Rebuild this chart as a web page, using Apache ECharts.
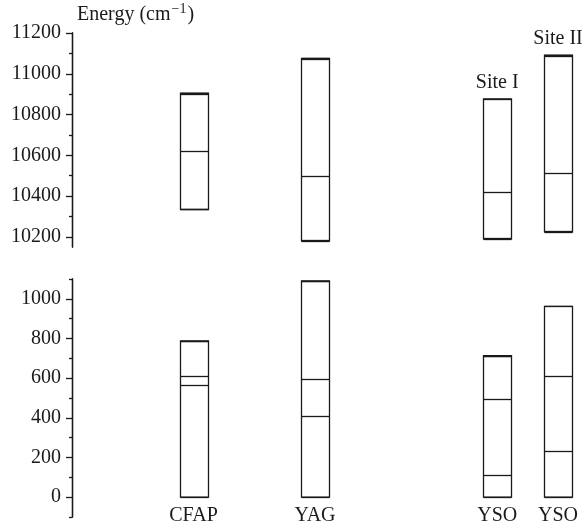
<!DOCTYPE html>
<html>
<head>
<meta charset="utf-8">
<script src="https://cdn.jsdelivr.net/npm/echarts@6/dist/echarts.min.js"></script>
<style>html,body{margin:0;padding:0;background:#fff}#c{width:585px;height:527px}</style>
</head>
<body>
<div id="c"></div>
<script>
// Column slots: empty strings are spacing slots, named slots carry a material
const categories = ['', '', 'CFAP', '', 'YAG', '', '', 'YSO', 'YSO'];
const siteLabels = ['', '', '', '', '', '', '', 'Site I', 'Site II'];

// Energy levels (cm^-1), upper multiplet
const cfapUpper = [10334, 10623, 10900, 10905];
const yagUpper = [10180, 10185, 10497, 11070, 11075];
const ysoIUpper = [10190, 10195, 10418, 10877];
const ysoIIUpper = [10224, 10227, 10515, 11088, 11091];

// Energy levels (cm^-1), lower multiplet
const cfapLower = [0, 565, 610, 785, 788];
const yagLower = [0, 408, 596, 1088, 1091];
const ysoILower = [0, 112, 493, 711, 714];
const ysoIILower = [0, 233, 613, 962];

// Axis tick values
const upperMajorTicks = [10200, 10400, 10600, 10800, 11000, 11200];
const upperMinorTicks = [10300, 10500, 10700, 10900, 11100];
const lowerMajorTicks = [0, 200, 400, 600, 800, 1000];
const lowerMinorTicks = [-100, 100, 300, 500, 700, 900, 1100];

const upperLevels = [cfapUpper, yagUpper, ysoIUpper, ysoIIUpper];
const lowerLevels = [cfapLower, yagLower, ysoILower, ysoIILower];
const slotIndex = categories.map((c, i) => c ? i : -1).filter(i => i >= 0);

const FONT = 'Liberation Serif';
const INK = '#1a1a1a';

function makeData(levels) {
  return levels.map((lv, k) => [slotIndex[k], Math.min(...lv), Math.max(...lv)]);
}

function makeRender(levels, withSites) {
  return function (params, api) {
    const lv = levels[params.dataIndex];
    const slot = api.value(0);
    const cx = api.coord([slot, api.value(1)])[0];
    const yB = api.coord([slot, api.value(1)])[1];
    const yT = api.coord([slot, api.value(2)])[1];
    const w = 28;
    const x0 = Math.round(cx - w / 2) + 0.5;
    const children = [{
      type: 'rect',
      shape: { x: x0, y: yT, width: w, height: yB - yT },
      style: { fill: '#fff', stroke: INK, lineWidth: 1.3 }
    }];
    lv.forEach(v => {
      const y = Math.round(api.coord([slot, v])[1]) + 0.5;
      children.push({
        type: 'line',
        shape: { x1: x0, y1: y, x2: x0 + w, y2: y },
        style: { stroke: INK, lineWidth: 1.3 }
      });
    });
    if (withSites && siteLabels[slot]) {
      children.push({
        type: 'text',
        style: {
          text: siteLabels[slot], x: cx, y: yT - 6,
          align: 'center', verticalAlign: 'bottom',
          font: '20px "' + FONT + '"', fill: INK
        }
      });
    }
    return { type: 'group', children };
  };
}

function yAxisPair(gridIndex, min, max, major, minor) {
  const base = {
    type: 'value', gridIndex, min, max, position: 'left',
    splitLine: { show: false },
    axisLine: { show: true, onZero: false, lineStyle: { color: INK, width: 1.3 } }
  };
  return [
    Object.assign({}, base, {
      axisTick: { show: true, length: 6, customValues: major, lineStyle: { color: INK, width: 1.3 } },
      axisLabel: {
        show: true, customValues: major, margin: 11, fontFamily: FONT, fontSize: 20, color: INK,
        formatter: v => String(v)
      }
    }),
    Object.assign({}, base, {
      axisTick: { show: true, length: 3, customValues: minor, lineStyle: { color: INK, width: 1.3 } },
      axisLabel: { show: false }
    })
  ];
}

const chart = echarts.init(document.getElementById('c'), null, { renderer: 'canvas' });
chart.setOption({
  animation: false,
  backgroundColor: '#fff',
  title: {
    text: '{a|Energy (cm}{s|\u22121}{a|)}', left: 77, top: -1, padding: 0,
    textStyle: {
      fontFamily: FONT, fontSize: 20, fontWeight: 'normal', color: INK,
      rich: {
        a: { fontFamily: FONT, fontSize: 20, color: INK, lineHeight: 26, verticalAlign: 'bottom' },
        s: { fontFamily: FONT, fontSize: 14, color: INK, lineHeight: 26, verticalAlign: 'top', padding: [3, 1, 0, 1] }
      }
    }
  },
  grid: [
    { left: 72, right: 27, top: 33, height: 214, outerBoundsMode: 'none' },
    { left: 72, right: 27, top: 279, height: 238, outerBoundsMode: 'none' }
  ],
  xAxis: [
    { type: 'category', gridIndex: 0, data: categories, boundaryGap: false, show: false },
    {
      type: 'category', gridIndex: 1, data: categories, boundaryGap: false,
      axisLine: { show: false },
      axisTick: { show: false },
      axisLabel: { interval: 0, margin: -11, fontFamily: FONT, fontSize: 20, color: INK }
    }
  ],
  yAxis: [
    ...yAxisPair(0, 10150, 11200, upperMajorTicks, upperMinorTicks),
    ...yAxisPair(1, -100, 1100, lowerMajorTicks, lowerMinorTicks)
  ],
  series: [
    {
      type: 'custom', xAxisIndex: 0, yAxisIndex: 0,
      data: makeData(upperLevels), encode: { x: 0, y: [1, 2] },
      renderItem: makeRender(upperLevels, true)
    },
    {
      type: 'custom', xAxisIndex: 1, yAxisIndex: 2,
      data: makeData(lowerLevels), encode: { x: 0, y: [1, 2] },
      renderItem: makeRender(lowerLevels, false)
    }
  ]
});
</script>
</body>
</html>
